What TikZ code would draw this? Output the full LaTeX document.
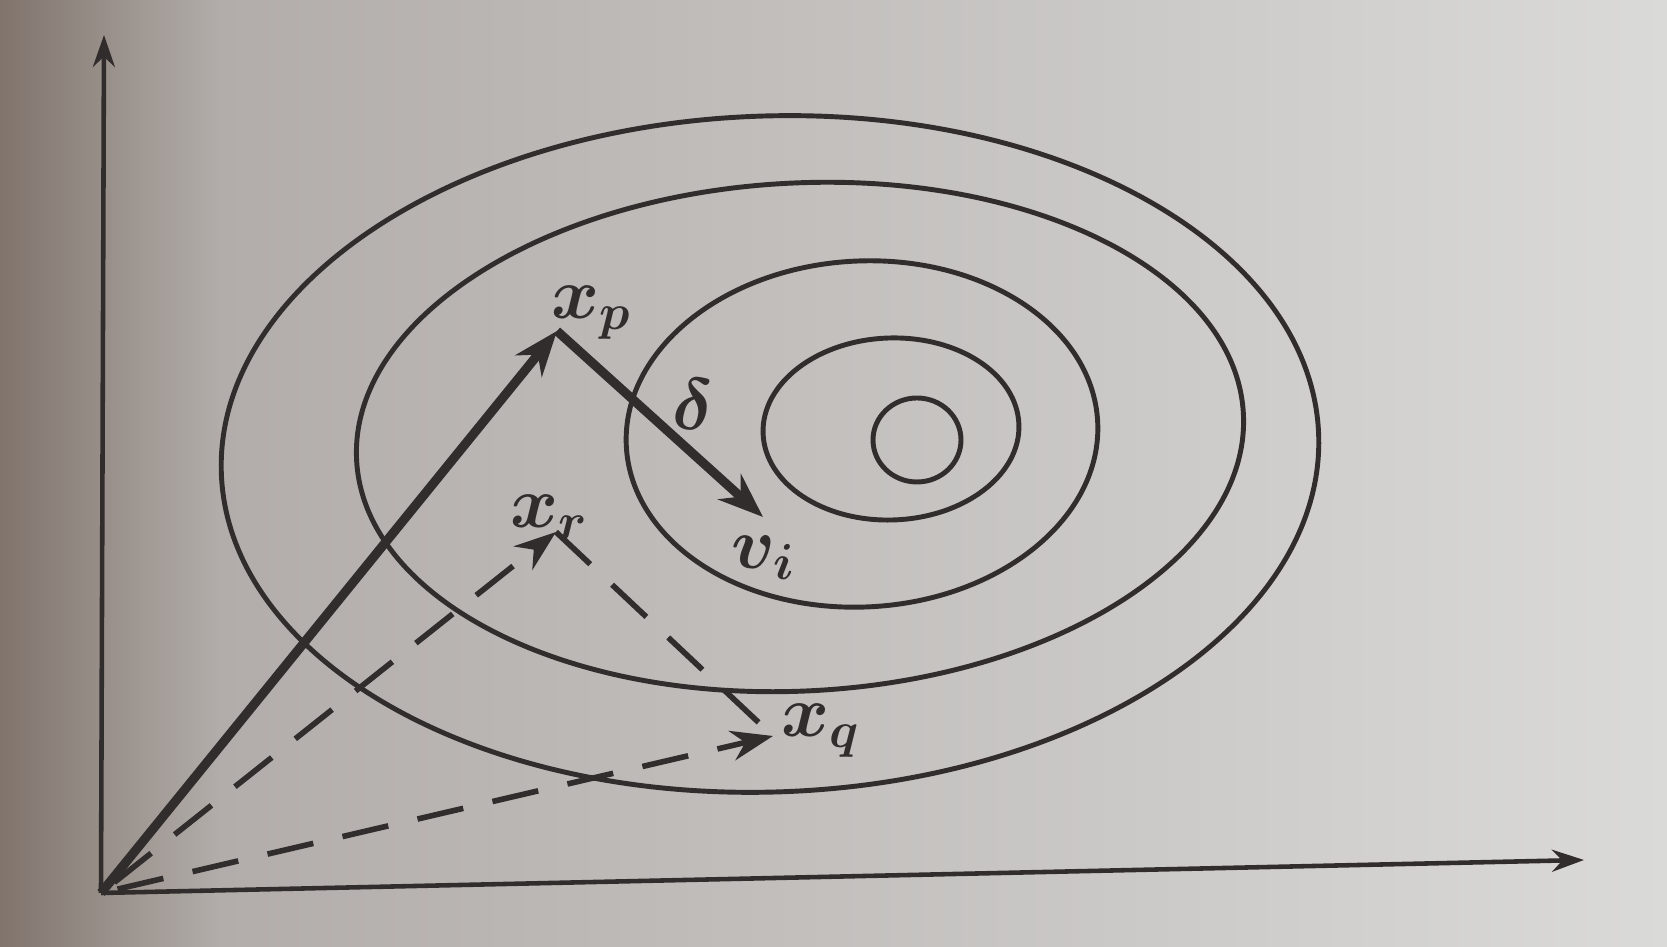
\documentclass[tikz,border=0pt]{standalone}
\usepackage{amsmath,amssymb}
\usepackage{bm}
\usepackage{tikz}
\usetikzlibrary{arrows.meta,positioning}
\definecolor{ink}{RGB}{50,45,45}
\definecolor{paperL}{RGB}{128,116,108}
\definecolor{paperM}{RGB}{178,173,170}
\definecolor{paperR}{RGB}{218,218,217}

\begin{document}
\begin{tikzpicture}[
    contour/.style={ink,line width=1.4pt},
    axis/.style={ink,line width=1.3pt,-{Stealth[length=0.32cm,width=0.22cm]}},
    vec/.style={ink,line width=2.6pt,-{Stealth[length=0.45cm,width=0.34cm]}},
    dvec/.style={ink,line width=1.6pt,dash pattern=on 0.47cm off 0.3cm,dash phase=0.6cm,-{Stealth[length=0.42cm,width=0.3cm]}},
    dline/.style={ink,line width=1.6pt,dash pattern=on 0.47cm off 0.3cm},
    lbl/.style={ink,inner sep=0pt,font=\fontsize{20}{24}\selectfont}]
  % paper
  \shade[left color=paperL,right color=paperM] (0,0) rectangle (2.2,9.47);
  \shade[left color=paperM,right color=paperR] (2.2,0) rectangle (16.67,9.47);
  \useasboundingbox (0,0) rectangle (16.67,9.47);

  % points
  \coordinate (O) at (1.01,0.54);
  \coordinate (xend) at (15.84,0.87);
  \coordinate (yend) at (1.04,9.12);
  \coordinate (xp) at (5.57,6.16);
  \coordinate (vi) at (7.63,4.30);
  \coordinate (xr) at (5.56,4.15);
  \coordinate (xq) at (7.73,2.11);

  % level sets
  \draw[contour,rotate around={2:(7.70,4.93)}] (7.70,4.93) ellipse [x radius=5.49cm,y radius=3.38cm];
  \draw[contour,rotate around={3:(8.00,5.10)}] (8.00,5.10) ellipse [x radius=4.44cm,y radius=2.54cm];
  \draw[contour,rotate around={3:(8.62,5.13)}] (8.62,5.13) ellipse [x radius=2.36cm,y radius=1.73cm];
  \draw[contour,rotate around={2:(8.91,5.18)}] (8.91,5.18) ellipse [x radius=1.28cm,y radius=0.91cm];
  \draw[contour] (9.17,5.07) ellipse [x radius=0.44cm,y radius=0.42cm];

  % axes
  \draw[axis] (O) -- (xend);
  \draw[axis] (O) -- (yend);

  % vectors
  \draw[dvec] (O) -- (xr);
  \draw[dvec] (O) -- (xq);
  \draw[dline] (xr) -- (xq);
  \draw[vec] (O) -- (xp);
  \draw[vec] (xp) -- (vi);

  % labels
  \node[lbl,anchor=base west] (lp) at (5.51,6.28) {$\bm{x_p}$};
  \node[lbl,anchor=base west] (ld) at (6.72,5.17) {$\bm{\delta}$};
  \node[lbl,anchor=base west] (lv) at (7.31,3.78) {$\bm{v_i}$};
  \node[lbl,anchor=base west] (lr) at (5.10,4.19) {$\bm{x_r}$};
  \node[lbl,anchor=base west] (lq) at (7.81,2.10) {$\bm{x_q}$};
\end{tikzpicture}
\end{document}
